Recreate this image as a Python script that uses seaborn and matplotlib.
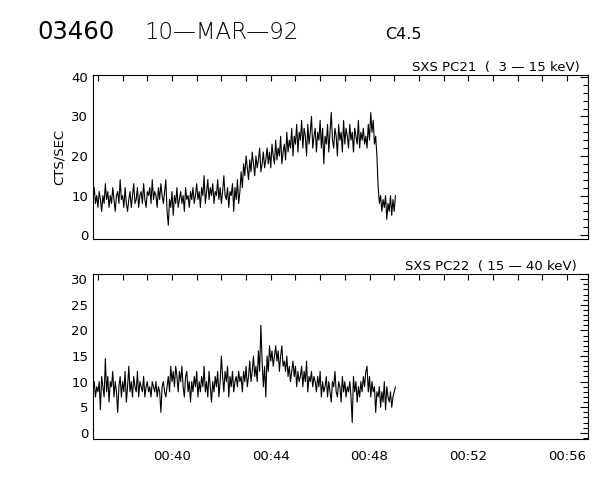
import numpy as np
import pandas as pd
import matplotlib
matplotlib.use("Agg")
import matplotlib.pyplot as plt
from matplotlib.ticker import MultipleLocator, FuncFormatter
import seaborn as sns

# --- data ---
t_start = 36.80      # minutes after 00:00 UT
cadence_s = 3.0      # seconds between samples

pc21_counts = [
    9, 12, 8, 10, 7, 11, 9, 6, 10, 8, 13, 9, 11, 7, 10, 8, 12, 9, 6, 10,
    11, 8, 14, 9, 10, 7, 12, 8, 6, 9, 11, 7, 10, 13, 8, 9, 12, 7, 10, 11,
    8, 13, 9, 7, 11, 10, 12, 8, 14, 9, 11, 10, 7, 12, 9, 13, 10, 8, 11, 14,
    6, 2.5, 9, 7, 11, 5, 10, 8, 12, 7, 9, 11, 8, 10, 6, 12, 9, 10, 7, 11,
    9, 12, 8, 10, 13, 9, 11, 7, 12, 10, 15, 8, 11, 14, 9, 12, 10, 13, 8, 11,
    10, 14, 9, 12, 8, 11, 15, 10, 9, 12, 7, 11, 10, 13, 6, 12, 9, 14, 8, 11,
    16, 12, 18, 15, 20, 17, 14, 19, 16, 21, 18, 15, 20, 17, 19, 22, 16, 18, 21, 17,
    19, 22, 18, 21, 17, 23, 20, 18, 24, 19, 22, 20, 25, 18, 21, 23, 19, 26, 21, 24,
    22, 27, 20, 25, 23, 28, 21, 26, 24, 29, 22, 27, 25, 20, 28, 23, 26, 30, 22, 25,
    27, 21, 26, 24, 29, 22, 27, 18, 25, 23, 28, 21, 26, 31, 24, 22, 27, 25, 20, 28,
    24, 26, 21, 29, 23, 27, 25, 22, 28, 24, 26, 21, 27, 25, 23, 29, 22, 26, 24, 27,
    23, 25, 22, 28, 24, 31, 26, 29, 23, 25,
    20, 12, 8, 10, 6, 9, 7, 10, 4, 8, 6, 10, 5, 9, 6, 10,
]

pc22_counts = [
    8, 10, 7, 9, 8, 10, 4.5, 11, 9, 7, 14.5, 8, 11, 6, 10, 9, 12, 7, 10, 8,
    4, 9, 11, 7, 10, 8, 12, 6, 9, 13, 8, 10, 7, 11, 9, 8, 12, 7, 10, 9,
    8, 11, 7, 9, 10, 8, 9, 7, 10, 9, 8, 10, 7, 9, 8, 4, 9, 10, 8, 7,
    9, 11, 8, 13, 10, 12, 9, 13, 11, 8, 12, 10, 13, 9, 7, 11, 12, 8, 10, 6,
    10, 8, 11, 9, 12, 7, 10, 8, 11, 9, 13, 8, 10, 7, 12, 9, 6, 10, 8, 11,
    9, 12, 7, 10, 15, 11, 8, 12, 10, 13, 7, 11, 9, 12, 8, 10, 11, 9, 12, 10,
    11, 8, 12, 10, 13, 9, 11, 14, 10, 12, 15, 11, 13, 10, 16, 12, 21, 14, 9, 13,
    7, 15, 12, 17, 14, 16, 13, 15, 17, 14, 16, 12, 15, 17, 13, 14, 12, 15, 11, 13,
    10, 12, 14, 11, 13, 9, 12, 10, 11, 13, 9, 12, 10, 14, 8, 11, 10, 12, 9, 11,
    10, 8, 11, 9, 12, 7, 10, 8, 9, 11, 7, 10, 8, 6, 10, 9, 12, 8, 7, 10,
    9, 6, 11, 8, 10, 7, 9, 8, 10, 7, 2, 11, 8, 10, 6, 9, 7, 10, 8, 11,
    9, 12, 13, 8, 11, 7, 10, 8, 9, 4, 8, 7, 9, 5, 8, 6, 10, 4.5, 9, 7,
    6, 8, 5, 7, 8, 9,
]

minute_ticks = [40, 44, 48, 52, 56]
panel_labels = ["SXS PC21  (  3 \u2014 15 keV)", "SXS PC22  ( 15 \u2014 40 keV)"]

t_min = t_start + np.arange(len(pc21_counts)) * cadence_s / 60.0
df = pd.DataFrame({"t": t_min, "pc21": pc21_counts, "pc22": pc22_counts})

sns.set_style("white")
plt.rcParams["font.family"] = ["DejaVu Sans"]
plt.rcParams["text.color"] = "black"
plt.rcParams["axes.labelcolor"] = "black"
plt.rcParams["xtick.color"] = "black"
plt.rcParams["ytick.color"] = "black"

fig = plt.figure(figsize=(6, 4.8), dpi=100)
ax1 = fig.add_axes([0.155, 0.502, 0.825, 0.342])
ax2 = fig.add_axes([0.155, 0.0855, 0.825, 0.3435])

sns.lineplot(data=df, x="t", y="pc21", ax=ax1, color="black", lw=0.8, estimator=None)
sns.lineplot(data=df, x="t", y="pc22", ax=ax2, color="black", lw=0.8, estimator=None)

fmt = FuncFormatter(lambda v, p: f"00:{int(round(v)):02d}")
for ax in (ax1, ax2):
    ax.set_xlim(36.80, 56.85)
    ax.set_xticks(minute_ticks)
    ax.xaxis.set_minor_locator(MultipleLocator(1))
    ax.xaxis.set_major_formatter(fmt)
    ax.tick_params(which="both", direction="in", top=True, right=True,
                   colors="black", labelcolor="black", labelsize=9.5, width=0.8)
    ax.tick_params(which="major", length=6)
    ax.tick_params(which="minor", length=3.5)
    ax.tick_params(axis="x", which="both", length=4.5)
    ax.set_xlabel("")
    ax.set_ylabel("")
    for s in ax.spines.values():
        s.set_color("black")
        s.set_linewidth(0.8)

ax1.set_ylim(-1, 40.5)
ax1.yaxis.set_major_locator(MultipleLocator(10))
ax1.yaxis.set_minor_locator(MultipleLocator(2))
ax1.tick_params(axis="x", labelbottom=False)
ax1.set_ylabel("CTS/SEC", fontsize=9.5, labelpad=4, color="black")

ax2.set_ylim(-1.2, 31)
ax2.yaxis.set_major_locator(MultipleLocator(5))
ax2.yaxis.set_minor_locator(MultipleLocator(1))
ax2.tick_params(axis="x", pad=8)

ax1.text(0.983, 1.005, panel_labels[0], transform=ax1.transAxes, ha="right", va="bottom",
         fontsize=9.5, color="black")
ax2.text(0.978, 1.005, panel_labels[1], transform=ax2.transAxes, ha="right", va="bottom",
         fontsize=9.5, color="black")

fig.text(0.063, 0.918, "03460", fontsize=17.5, color="black", va="baseline")
fig.text(0.24, 0.918, "10\u2014MAR\u201492", fontsize=16.5, fontweight="light",
         color="black", va="baseline")
fig.text(0.642, 0.918, "C4.5", fontsize=11.5, color="black", va="baseline")

fig.savefig("out.png", dpi=100, facecolor="white")
